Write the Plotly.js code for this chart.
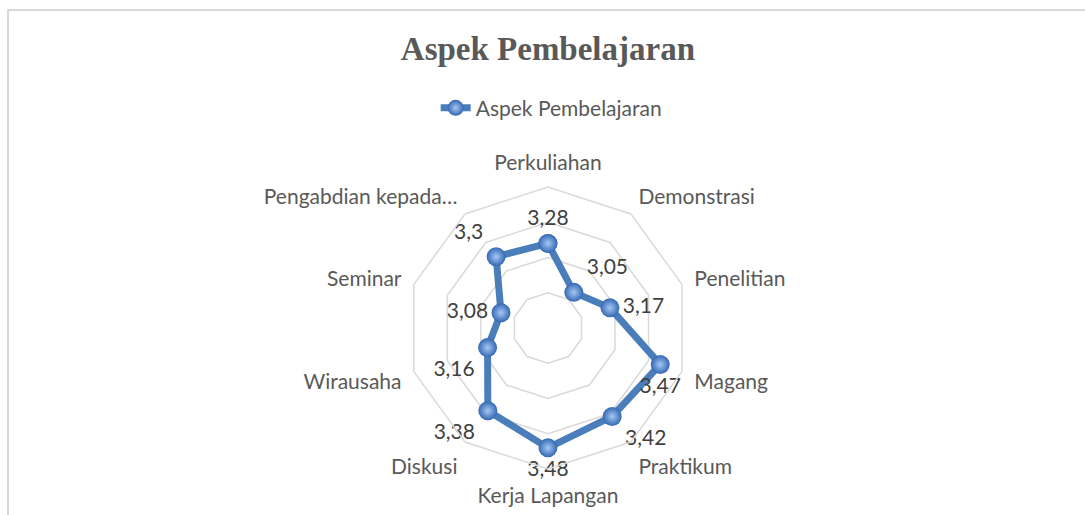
<!DOCTYPE html>
<html>
<head>
<meta charset="utf-8">
<script src="https://cdn.plot.ly/plotly-3.0.1.min.js"></script>
<style>
html,body{margin:0;padding:0;background:#fff;}
#wrap{position:relative;width:1085px;height:515px;overflow:hidden;}
#frame{position:absolute;left:7px;top:9px;width:1100px;height:520px;border-top:2px solid #d9d9d9;border-left:2px solid #d9d9d9;pointer-events:none;}
#chart{position:absolute;left:0;top:0;width:1085px;height:515px;}
</style>
</head>
<body>
<div id="wrap">
<div id="chart"></div>
<div id="frame"></div>
</div>
<script>
const categories = ["Perkuliahan","Demonstrasi","Penelitian","Magang","Praktikum","Kerja Lapangan","Diskusi","Wirausaha","Seminar","Pengabdian kepada…"];
const values = [3.28, 3.05, 3.17, 3.47, 3.42, 3.48, 3.38, 3.16, 3.08, 3.3];
const seriesName = "Aspek Pembelajaran";
const chartTitle = "Aspek Pembelajaran";
const labelPositions = ["top center","top right","middle right","bottom center","bottom right","bottom center","bottom left","bottom left","middle left","top left"];

const closedTheta = categories.concat([categories[0]]);
const closedR = values.concat([values[0]]);
const closedPos = labelPositions.concat(["top center"]);
const closedText = values.map(v => String(v).replace('.', ',')).concat([""]);

const trace = {
  type: 'scatterpolar',
  r: closedR,
  theta: closedTheta,
  mode: 'lines+markers+text',
  name: seriesName,
  text: closedText,
  textposition: closedPos,
  textfont: {family: 'Lato, "Open Sans", sans-serif', size: 21, color: '#404040'},
  line: {color: '#4a7ebb', width: 7},
  marker: {size: 19, color: '#3468b4', gradient: {type: 'radial', color: '#a6c7f2'}, line: {width: 0}},
  cliponaxis: false,
  hoverinfo: 'skip'
};

const layout = {
  width: 1085, height: 515,
  margin: {l: 0, r: 0, t: 0, b: 0},
  paper_bgcolor: 'rgba(0,0,0,0)',
  plot_bgcolor: 'rgba(0,0,0,0)',
  separators: ',.',
  title: {text: '<b>' + chartTitle + '</b>', x: 0.505, xanchor: 'center', y: 0.905, yanchor: 'middle',
          font: {family: '"Liberation Serif", "DejaVu Serif", serif', size: 33, color: '#595959'}},
  showlegend: true,
  legend: {orientation: 'h', x: 0.508, xanchor: 'center', y: 0.79, yanchor: 'middle',
           font: {family: 'Lato, "Open Sans", sans-serif', size: 21, color: '#595959'}},
  polar: {
    domain: {x: [0.375, 0.635], y: [0.0893, 0.6369]},
    bgcolor: 'rgba(0,0,0,0)',
    gridshape: 'linear',
    radialaxis: {range: [2.8, 3.6], dtick: 0.2, tick0: 2.8, showticklabels: false, ticks: '',
                 showline: false, gridcolor: '#d9d9d9', gridwidth: 1.5, angle: 90},
    angularaxis: {direction: 'clockwise', rotation: 90, showgrid: false, showline: true,
                  linecolor: '#d9d9d9', linewidth: 1.5, ticks: 'outside', ticklen: 8, tickcolor: 'rgba(0,0,0,0)',
                  tickfont: {family: 'Lato, "Open Sans", sans-serif', size: 21, color: '#595959'}}
  }
};

Plotly.newPlot('chart', [trace], layout, {displayModeBar: false, staticPlot: true});
</script>
</body>
</html>
